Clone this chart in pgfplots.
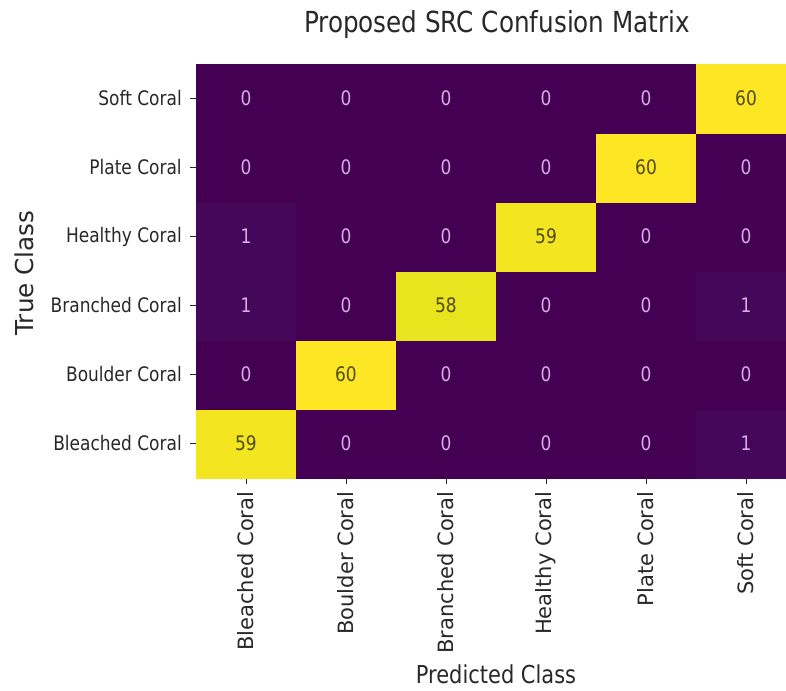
\documentclass[border=0pt]{standalone}
\usepackage{fontspec}
\setmainfont{DejaVu Sans}[FakeStretch=0.85]
\newfontfamily\rotfont{DejaVu Sans}
\usepackage{pgfplots}
\usepackage{pgfplotstable}
\pgfplotsset{compat=1.18}
\definecolor{lowtxt}{RGB}{215,172,228}
\definecolor{hightxt}{RGB}{80,76,20}
\definecolor{ticktxt}{RGB}{40,40,40}
\pgfplotstableread{
x y c
0 0 59
1 0 0
2 0 0
3 0 0
4 0 0
5 0 1
0 1 0
1 1 60
2 1 0
3 1 0
4 1 0
5 1 0
0 2 1
1 2 0
2 2 58
3 2 0
4 2 0
5 2 1
0 3 1
1 3 0
2 3 0
3 3 59
4 3 0
5 3 0
0 4 0
1 4 0
2 4 0
3 4 0
4 4 60
5 4 0
0 5 0
1 5 0
2 5 0
3 5 0
4 5 0
5 5 60
}\cm
\begin{document}
\begin{tikzpicture}[x=1pt,y=1pt]
\useasboundingbox (0,0) rectangle (589.5,517.5);
\begin{axis}[
  at={(147pt,159pt)}, anchor=south west,
  width=450pt, height=310.5pt, scale only axis,
  xmin=-0.5, xmax=5.5, ymin=-0.5, ymax=5.5,
  colormap/viridis, point meta min=0, point meta max=60,
  axis line style={draw=none},
  xtick={0,...,5}, ytick={0,...,5},
  xticklabels={Bleached Coral,Boulder Coral,Branched Coral,Healthy Coral,Plate Coral,Soft Coral},
  yticklabels={Bleached Coral,Boulder Coral,Branched Coral,Healthy Coral,Plate Coral,Soft Coral},
  tick align=outside, xtick pos=left, ytick pos=left,
  major tick length=4.5pt,
  tick style={ticktxt, line width=0.6pt},
  xticklabel style={rotate=90, anchor=east, inner sep=0pt, xshift=-5.5pt, font=\rotfont\fontsize{15.8}{18}\selectfont, text=ticktxt},
  yticklabel style={inner sep=0pt, xshift=-6pt, font=\fontsize{15}{18}\selectfont, text=ticktxt},
]
\addplot[matrix plot*, mesh/cols=6, point meta=explicit] table[x=x, y=y, meta=c] {\cm};
\addplot[only marks, mark=none, point meta=explicit symbolic, nodes near coords, nodes near coords align=center,
  every node near coord/.style={text=lowtxt, font=\fontsize{15}{18}\selectfont, anchor=center}]
  coordinates {
  (1,0)[0] (2,0)[0] (3,0)[0] (4,0)[0] (5,0)[1]
  (0,1)[0] (2,1)[0] (3,1)[0] (4,1)[0] (5,1)[0]
  (0,2)[1] (1,2)[0] (3,2)[0] (4,2)[0] (5,2)[1]
  (0,3)[1] (1,3)[0] (2,3)[0] (4,3)[0] (5,3)[0]
  (0,4)[0] (1,4)[0] (2,4)[0] (3,4)[0] (5,4)[0]
  (0,5)[0] (1,5)[0] (2,5)[0] (3,5)[0] (4,5)[0]
  };
\addplot[only marks, mark=none, point meta=explicit symbolic, nodes near coords, nodes near coords align=center,
  every node near coord/.style={text=hightxt, font=\fontsize{15}{18}\selectfont, anchor=center}]
  coordinates {(0,0)[59] (1,1)[60] (2,2)[58] (3,3)[59] (4,4)[60] (5,5)[60]};
\end{axis}
\node[anchor=base, text=ticktxt, font=\fontsize{21.75}{26}\selectfont] at (372.75,492.75) {Proposed SRC Confusion Matrix};
\node[anchor=base, text=ticktxt, font=\fontsize{18.5}{22}\selectfont] at (372,5.25) {Predicted Class};
\node[anchor=base, rotate=90, text=ticktxt, font=\rotfont\fontsize{18.5}{22}\selectfont] at (24.75,312.75) {True Class};
\end{tikzpicture}
\end{document}
